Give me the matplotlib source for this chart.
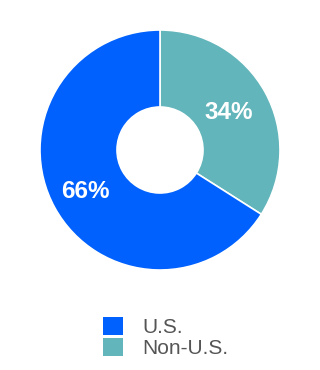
import numpy as np
import matplotlib.pyplot as plt
from matplotlib.patches import Patch

labels = ["U.S.", "Non-U.S."]
shares = [66, 34]
colors = ["#0061FE", "#62B5BA"]
label_dist = [0.71, 0.65]  # how far out each percentage sits, as fraction of radius

plt.rcParams["font.family"] = ["Liberation Sans", "DejaVu Sans"]

fig = plt.figure(figsize=(3.2, 3.7), dpi=100)
ax = fig.add_axes([40 / 320, 100 / 370, 240 / 320, 240 / 370])

# second slice sits clockwise from 12 o'clock, so draw reversed
wedges, texts, autotexts = ax.pie(
    shares[::-1],
    colors=colors[::-1],
    startangle=90,
    counterclock=False,
    radius=1.0,
    autopct=lambda p: f"{p:.0f}%",
    pctdistance=0.68,
    wedgeprops=dict(width=1 - 43 / 120, edgecolor="white", linewidth=1.2),
    textprops=dict(color="white", fontsize=17.5, fontweight="bold"),
)
for w, t, d in zip(wedges, autotexts, label_dist[::-1]):
    mid = np.deg2rad((w.theta1 + w.theta2) / 2)
    t.set_position((d * np.cos(mid), d * np.sin(mid)))

ax.set_xlim(-1, 1)
ax.set_ylim(-1, 1)
ax.set_aspect("equal")
ax.axis("off")

handles = [Patch(facecolor=c, edgecolor="none") for c in colors]
fig.legend(
    handles,
    labels,
    loc="upper left",
    bbox_to_anchor=(103 / 320, 1 - 317 / 370),
    frameon=False,
    fontsize=15,
    labelcolor="#555555",
    handlelength=0.95,
    handleheight=0.95,
    handletextpad=0.95,
    labelspacing=0.05,
    borderpad=0,
    borderaxespad=0,
)

fig.savefig("out.png", dpi=100, facecolor="white")
